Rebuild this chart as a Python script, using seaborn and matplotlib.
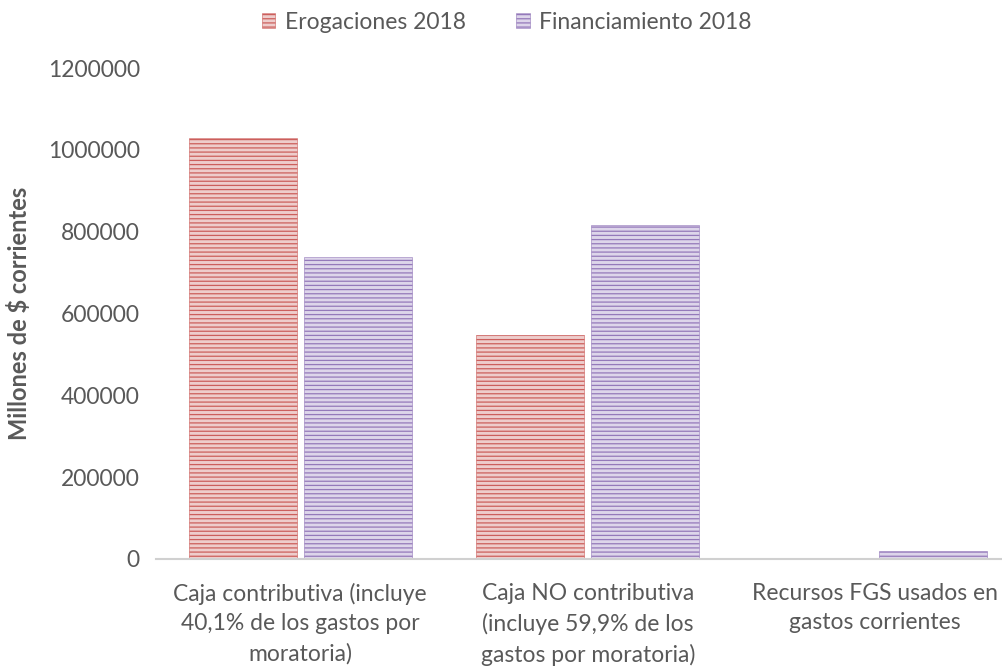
import pandas as pd
import numpy as np
import matplotlib.pyplot as plt
import matplotlib.colors as mcolors
import seaborn as sns
from matplotlib.patches import Patch

# data
categorias = [
    "Caja contributiva (incluye\n40,1% de los gastos por\nmoratoria)",
    "Caja NO contributiva\n(incluye 59,9% de los\ngastos por moratoria)",
    "Recursos FGS usados en\ngastos corrientes",
]
series = ["Erogaciones 2018", "Financiamiento 2018"]
erogaciones = [1029000, 547000, 0]
financiamiento = [738000, 816000, 19500]

df = pd.DataFrame({
    "categoria": categorias * 2,
    "serie": [series[0]] * 3 + [series[1]] * 3,
    "valor": erogaciones + financiamiento,
})

face_colors = ["#EECDCC", "#DDD5EA"]
line_colors = ["#CC5F5C", "#9479BA"]
text_color = "#595959"

sns.set_style("white")
plt.rcParams["font.family"] = ["Lato", "DejaVu Sans"]
plt.rcParams["hatch.linewidth"] = 0.9


def style_patch(p, fc, lc):
    p.set_facecolor(fc)
    p.set_edgecolor(lc)
    p.set_hatch("----")
    p.set_linewidth(0.4)
    if hasattr(p, "set_hatchcolor"):
        p.set_hatchcolor(lc)
    else:
        p._hatch_color = mcolors.to_rgba(lc)


fig = plt.figure(figsize=(10.03, 6.67), dpi=100)
ax = fig.add_axes([0.156, 0.162, 0.86, 0.736])

sns.barplot(data=df, x="categoria", y="valor", hue="serie", hue_order=series,
            palette=face_colors, width=0.8, gap=0.06, ax=ax, legend=False)

for cont, fc, lc in zip(ax.containers, face_colors, line_colors):
    for bar in cont:
        style_patch(bar, fc, lc)

ax.set_ylim(0, 1200000)
ax.set_yticks(np.arange(0, 1200001, 200000))
ax.set_yticklabels([str(v) for v in range(0, 1200001, 200000)])
ax.set_xlim(-0.5, 2.5)

ax.set_xlabel("")
ax.set_ylabel("Millones de $ corrientes", fontsize=17, fontweight="bold",
              color=text_color, labelpad=12)
ax.tick_params(axis="both", length=0, labelsize=16.5, colors=text_color)
ax.tick_params(axis="x", pad=17)
ax.tick_params(axis="y", pad=12)
for lbl in ax.get_xticklabels():
    lbl.set_linespacing(1.5)

for s in ["top", "right", "left"]:
    ax.spines[s].set_visible(False)
ax.spines["bottom"].set_color("#D0D0D0")
ax.spines["bottom"].set_linewidth(1.5)

handles = []
for fc, lc in zip(face_colors, line_colors):
    h = Patch()
    style_patch(h, fc, lc)
    handles.append(h)
leg = fig.legend(handles, series, loc="center", bbox_to_anchor=(0.505, 0.967),
                 ncol=2, frameon=False, fontsize=16.5, handlelength=0.6,
                 handleheight=0.6, handletextpad=0.4, columnspacing=2.2)
for t in leg.get_texts():
    t.set_color(text_color)

fig.savefig("out.png", dpi=100)
